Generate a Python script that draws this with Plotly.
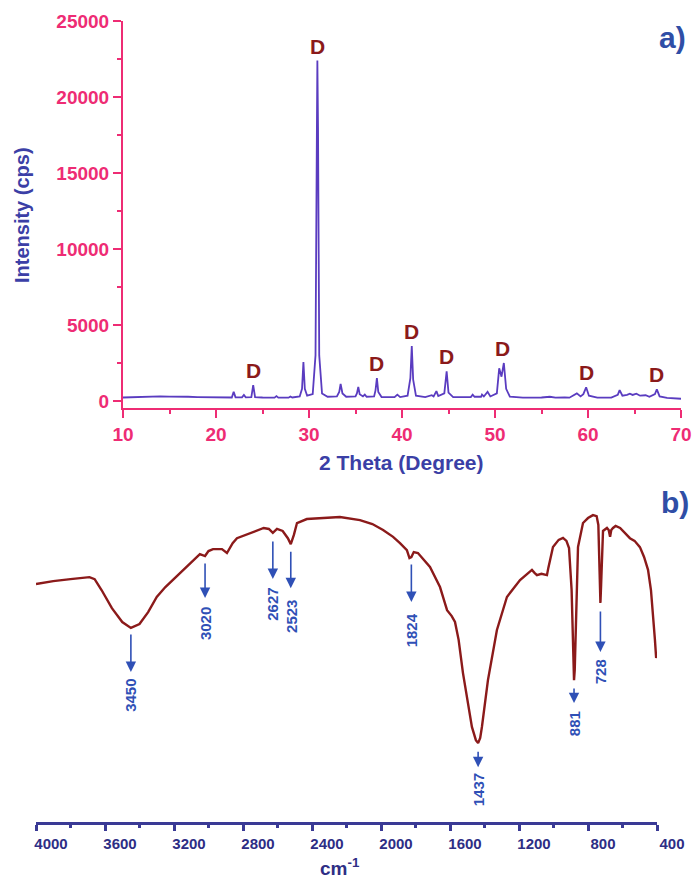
import plotly.graph_objects as go

# ---------------- DATA ----------------
# a) XRD pattern (2 theta in degree, intensity in cps)
TWO_THETA = [10.0, 11.0, 12.0, 13.0, 14.0, 15.0, 16.0, 17.0, 18.0, 19.0, 20.0, 21.0,
             21.7, 21.9, 22.1, 22.8, 23.0, 23.2, 23.8, 24.0, 24.2, 25.0, 26.3, 26.5, 26.7,
             27.8, 28.0, 28.2, 29.0, 29.25, 29.4, 29.55, 29.8, 30.4, 30.7, 30.85, 30.9,
             30.97, 31.1, 31.4, 32.0, 33.0, 33.25, 33.4, 33.6, 34.0, 35.0, 35.15, 35.3,
             35.45, 35.8, 36.0, 36.2, 37.0, 37.15, 37.3, 37.45, 37.8, 39.2, 39.5, 39.8,
             40.6, 40.9, 41.05, 41.2, 41.5, 42.5, 43.2, 43.4, 43.7, 43.9, 44.55, 44.8,
             45.0, 45.5, 47.4, 47.6, 47.8, 48.5, 48.6, 48.8, 49.2, 49.5, 50.2, 50.45,
             50.7, 50.95, 51.2, 51.6, 53.0, 54.0, 55.0, 55.9, 56.5, 57.5, 58.0, 58.8,
             59.2, 59.5, 59.8, 60.1, 61.0, 62.5, 63.2, 63.4, 63.7, 64.2, 64.5, 64.8,
             65.2, 65.6, 66.2, 66.6, 67.2, 67.4, 67.7, 68.5, 70.0]
INTENSITY = [230, 260, 280, 300, 300, 290, 300, 280, 260, 250, 240, 230,
             230, 600, 240, 240, 400, 240, 250, 1050, 260, 230, 220, 320, 220,
             220, 300, 230, 300, 800, 2570, 800, 350, 450, 3000, 18000, 22400,
             18000, 3000, 500, 280, 300, 600, 1120, 500, 280, 300, 500, 920,
             450, 300, 420, 280, 300, 700, 1500, 600, 260, 260, 420, 260,
             350, 1500, 3620, 1400, 350, 260, 380, 300, 650, 320, 500, 1950,
             550, 260, 260, 420, 280, 280, 420, 300, 600, 300, 500, 2150,
             1600, 2500, 800, 280, 220, 210, 230, 280, 220, 240, 220, 500,
             300, 450, 900, 350, 220, 220, 400, 720, 350, 400, 480, 400,
             480, 350, 380, 280, 450, 770, 300, 200, 150]
D_THETA = [24.0, 30.9, 37.3, 41.05, 44.8, 50.85, 59.8, 67.4]
D_TEXT = "D"

XRD_XTICKS = [10, 20, 30, 40, 50, 60, 70]
XRD_YTICKS = [0, 5000, 10000, 15000, 20000, 25000]

# b) FTIR spectrum (wavenumber cm-1, transmittance a.u.)
WAVENUMBER = [4000, 3900, 3800, 3720, 3690, 3660, 3620, 3560, 3500, 3450, 3400, 3350,
              3300, 3250, 3165, 3100, 3050, 3020, 3000, 2974, 2922, 2893, 2860, 2835,
              2760, 2680, 2650, 2627, 2603, 2570, 2540, 2523, 2505, 2487, 2430, 2350,
              2278, 2238, 2122, 2050, 1988, 1930, 1890, 1850, 1835, 1824, 1810, 1786,
              1716, 1658, 1630, 1617, 1590, 1571, 1550, 1525, 1473, 1450, 1437, 1425,
              1415, 1380, 1328, 1270, 1194, 1125, 1110, 1096, 1070, 1038, 1030, 1020,
              1003, 970, 945, 925, 910, 895, 885, 881, 877, 868, 858, 829, 800, 771,
              750, 740, 733, 728, 724, 718, 713, 690, 680, 672, 665, 655, 640, 614,
              590, 557, 530, 499, 475, 452, 435, 423, 412, 405, 400]
TRANSMITTANCE = [72.1, 73.0, 73.6, 74.2, 74.2, 73.6, 70.3, 64.8, 60.6, 58.8, 60.0, 63.6,
                 68.2, 71.2, 75.5, 78.8, 81.2, 80.6, 82.1, 82.7, 82.7, 81.5, 84.5, 86.0,
                 87.6, 89.1, 88.8, 87.6, 88.8, 88.2, 86.0, 84.2, 87.0, 90.6, 91.8, 92.1,
                 92.4, 92.4, 91.5, 90.3, 88.5, 86.4, 84.5, 82.4, 80.0, 80.3, 81.8, 81.5,
                 77.3, 71.2, 66.4, 64.2, 62.4, 60.6, 55.2, 45.2, 28.8, 24.8, 23.9, 25.5,
                 28.8, 43.0, 58.2, 68.2, 73.3, 76.4, 75.5, 74.8, 75.2, 74.8, 77.0, 79.4,
                 83.3, 85.5, 86.1, 85.2, 83.0, 70.3, 46.0, 43.0, 46.0, 67.3, 83.3, 90.6,
                 92.1, 93.0, 92.7, 90.0, 71.8, 66.4, 71.8, 83.9, 88.2, 89.1, 88.5, 86.4,
                 88.5, 89.1, 89.7, 89.1, 87.9, 86.0, 85.2, 83.3, 80.3, 76.4, 70.3, 63.3,
                 55.2, 49.7, 51.5]
BAND_POS = [3450, 3020, 2627, 2523, 1824, 1437, 881, 728]
BAND_TEXT = ["3450", "3020", "2627", "2523", "1824", "1437", "881", "728"]
FTIR_XTICKS = [4000, 3600, 3200, 2800, 2400, 2000, 1600, 1200, 800, 400]

# ---------------- STYLE ----------------
W, H = 694, 882
PINK = "#EE2C74"
TITLE_BLUE = "#3B3FA6"
XRD_LINE = "#5A3CC0"
DARK_RED = "#8B1A1A"
NAVY = "#3A3A95"
NAVY_TXT = "#2E2E85"
ARROW_BLUE = "#2F50B6"
LETTER_BLUE = "#2F4EA6"
FONT = "Liberation Sans, Arial, sans-serif"

# pixel geometry of panels
A_LEFT, A_RIGHT, A_TOP, A_BOTTOM = 123, 681, 21, 408
B_LEFT, B_RIGHT, B_TOP, B_BOTTOM = 36, 657, 492, 822
Y_MIN_A, Y_MAX_A = -460, 25000
Y_MIN_B, Y_MAX_B = 0, 100
B_PX_PER_UNIT = (B_BOTTOM - B_TOP) / (Y_MAX_B - Y_MIN_B)

def px(x):
    return x / W

def py(y):
    return 1 - y / H

fig = go.Figure()
fig.add_trace(go.Scatter(x=TWO_THETA, y=INTENSITY, mode="lines",
                         line=dict(color=XRD_LINE, width=1.8),
                         xaxis="x", yaxis="y", hoverinfo="skip"))
fig.add_trace(go.Scatter(x=WAVENUMBER, y=TRANSMITTANCE, mode="lines",
                         line=dict(color=DARK_RED, width=2.4),
                         xaxis="x2", yaxis="y2", hoverinfo="skip"))

annotations = []
# D labels above the peaks
for th in D_THETA:
    top = max(v for t, v in zip(TWO_THETA, INTENSITY) if abs(t - th) <= 0.4)
    annotations.append(dict(x=th, y=top, xref="x", yref="y", text=D_TEXT,
                            showarrow=False, xanchor="center", yanchor="bottom", yshift=1,
                            font=dict(family=FONT, size=21, color=DARK_RED, weight="bold")))

# FTIR band arrows + labels: (gap below dip, arrow length, label center offset) in px
BAND_STYLE = [(5, 39, 23), (6, 36, 26), (7, 39, 25), (6, 38, 28),
              (6, 39, 28), (7, 17, 23), (7, 16, 21), (7, 42, 20)]
for pos, txt, (gap, length, lab) in zip(BAND_POS, BAND_TEXT, BAND_STYLE):
    dip = TRANSMITTANCE[WAVENUMBER.index(pos)]
    tail = dip - gap / B_PX_PER_UNIT
    head = tail - length / B_PX_PER_UNIT
    label_y = head - lab / B_PX_PER_UNIT
    annotations.append(dict(x=pos, y=head, xref="x2", yref="y2",
                            ax=pos, ay=tail, axref="x2", ayref="y2",
                            text="", showarrow=True, arrowhead=2, arrowsize=1.3,
                            arrowwidth=1.6, arrowcolor=ARROW_BLUE))
    annotations.append(dict(x=pos, y=label_y, xref="x2", yref="y2", text=txt,
                            showarrow=False, textangle=-90,
                            xanchor="center", yanchor="middle",
                            font=dict(family=FONT, size=15, color=ARROW_BLUE, weight="bold")))

# axis titles and panel letters
def paper_text(x, y, text, size, color, angle=0, yanchor="middle"):
    return dict(x=px(x), y=py(y), xref="paper", yref="paper", text=text,
                textangle=angle, showarrow=False, xanchor="center", yanchor=yanchor,
                font=dict(family=FONT, size=size, color=color, weight="bold"))

annotations += [
    paper_text(22, 215, "Intensity (cps)", 20, TITLE_BLUE, angle=-90),
    paper_text(402, 462, "2 Theta (Degree)", 21, TITLE_BLUE),
    paper_text(340, 853, "cm<sup>-1</sup>", 19, NAVY_TXT, yanchor="top"),
    paper_text(672, 37, "a)", 30, LETTER_BLUE),
    paper_text(675, 502, "b)", 30, LETTER_BLUE),
]

fig.update_layout(
    template="none",
    width=W, height=H, margin=dict(l=0, r=0, t=0, b=0, pad=0),
    paper_bgcolor="white", plot_bgcolor="white", showlegend=False,
    xaxis=dict(domain=[px(A_LEFT), px(A_RIGHT)], anchor="y", range=[10, 70],
               tickvals=XRD_XTICKS, ticktext=[str(v) for v in XRD_XTICKS],
               showline=True, linecolor=PINK, linewidth=2, mirror=False,
               ticks="outside", ticklen=8, tickwidth=2, tickcolor=PINK,
               minor=dict(dtick=5, tick0=10, ticks="outside", ticklen=4, tickwidth=2, tickcolor=PINK,
                          showgrid=False),
               tickfont=dict(family=FONT, size=19, color=PINK, weight="bold"),
               showgrid=False, zeroline=False, fixedrange=True, automargin=False),
    yaxis=dict(domain=[py(A_BOTTOM), py(A_TOP)], anchor="x", range=[Y_MIN_A, Y_MAX_A],
               tickvals=XRD_YTICKS, ticktext=[str(v) for v in XRD_YTICKS],
               showline=True, linecolor=PINK, linewidth=2,
               ticks="outside", ticklen=8, tickwidth=2, tickcolor=PINK,
               minor=dict(dtick=2500, tick0=0, ticks="outside", ticklen=4, tickwidth=2, tickcolor=PINK,
                          showgrid=False),
               tickfont=dict(family=FONT, size=19, color=PINK, weight="bold"),
               showgrid=False, zeroline=False, fixedrange=True, automargin=False),
    xaxis2=dict(domain=[px(B_LEFT), px(B_RIGHT)], anchor="y2", range=[4000, 400],
                tickvals=FTIR_XTICKS, ticktext=[str(v) for v in FTIR_XTICKS],
                showline=True, linecolor=NAVY, linewidth=2.5,
                ticks="outside", ticklen=6, tickwidth=2.5, tickcolor=NAVY,
                minor=dict(dtick=200, tick0=400, ticks="outside", ticklen=3, tickwidth=2.5, tickcolor=NAVY,
                           showgrid=False),
                tickfont=dict(family=FONT, size=15, color=NAVY_TXT, weight="bold"),
                ticklabelshift=-15,
                showgrid=False, zeroline=False, fixedrange=True, automargin=False),
    yaxis2=dict(domain=[py(B_BOTTOM), py(B_TOP)], anchor="x2", range=[Y_MIN_B, Y_MAX_B],
                visible=False, fixedrange=True, automargin=False),
    annotations=annotations,
)

fig.write_html("out.html", config={"displayModeBar": False},
               post_script="document.body.style.margin='0px';")
